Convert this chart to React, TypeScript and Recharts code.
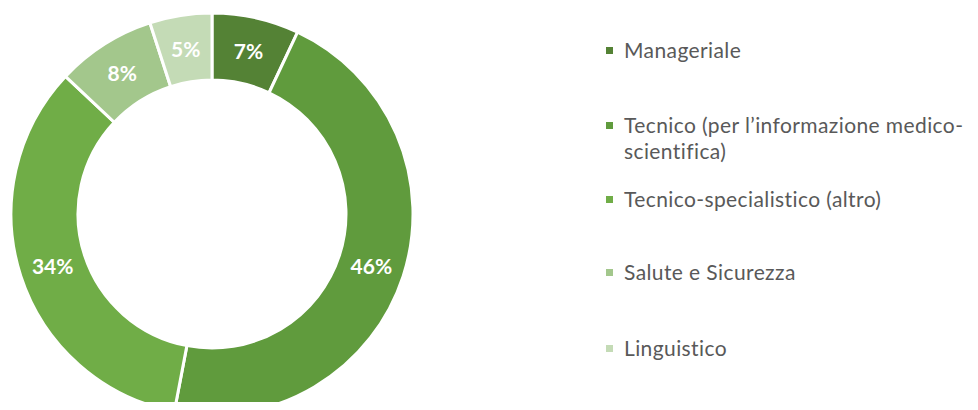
import React from "react";
import { PieChart, Pie, Cell, Legend } from "recharts";

const categories = [
  "Manageriale",
  "Tecnico (per l\u2019informazione medico-scientifica)",
  "Tecnico-specialistico (altro)",
  "Salute e Sicurezza",
  "Linguistico",
];
const legendLines = [
  ["Manageriale"],
  ["Tecnico (per l\u2019informazione medico-", "scientifica)"],
  ["Tecnico-specialistico (altro)"],
  ["Salute e Sicurezza"],
  ["Linguistico"],
];
const values = [7, 46, 34, 8, 5];
const colors = ["#548235", "#609b3d", "#70ad47", "#a3c78c", "#c4dbb6"];

const data = categories.map((name, i) => ({ name, value: values[i] }));

const FONT = "Lato, 'Open Sans', sans-serif";
const RAD = Math.PI / 180;

const renderLabel = (props: any) => {
  const { cx, cy, midAngle, innerRadius, outerRadius, value } = props;
  const r = (innerRadius + outerRadius) / 2;
  const x = cx + r * Math.cos(-midAngle * RAD);
  const y = cy + r * Math.sin(-midAngle * RAD);
  return (
    <text
      x={x}
      y={y}
      fill="#ffffff"
      textAnchor="middle"
      dominantBaseline="central"
      fontFamily={FONT}
      fontWeight={700}
      fontSize={21}
    >
      {value}%
    </text>
  );
};

const legendTops = [33, 108, 182, 255, 331];

const renderLegend = () => (
  <div style={{ position: "relative", width: 380, height: 400, fontFamily: FONT }}>
    {legendLines.map((lines, i) => (
      <div key={i} style={{ position: "absolute", left: 0, top: legendTops[i] }}>
        <div
          style={{
            position: "absolute",
            left: 0,
            top: 14,
            width: 7,
            height: 7,
            background: colors[i],
          }}
        />
        {lines.map((t, j) => (
          <div
            key={j}
            style={{
              position: "absolute",
              left: 18,
              top: j * 26,
              whiteSpace: "nowrap",
              fontSize: 21,
              letterSpacing: 0.4,
              lineHeight: "34px",
              color: "#595959",
            }}
          >
            {t}
          </div>
        ))}
      </div>
    ))}
  </div>
);

export default function App() {
  return (
    <div style={{ margin: -8 }}>
      <PieChart width={978} height={410} margin={{ top: 0, right: 0, bottom: 0, left: 0 }}>
        <Pie
          data={data}
          dataKey="value"
          nameKey="name"
          cx={212}
          cy={214}
          innerRadius={134}
          outerRadius={201}
          startAngle={90}
          endAngle={-270}
          stroke="#ffffff"
          strokeWidth={3}
          label={renderLabel}
          labelLine={false}
          isAnimationActive={false}
        >
          {data.map((d, i) => (
            <Cell key={d.name} fill={colors[i]} />
          ))}
        </Pie>
        <Legend
          content={renderLegend}
          wrapperStyle={{ position: "absolute", left: 606, top: 0, width: 380, height: 400 }}
        />
      </PieChart>
    </div>
  );
}
